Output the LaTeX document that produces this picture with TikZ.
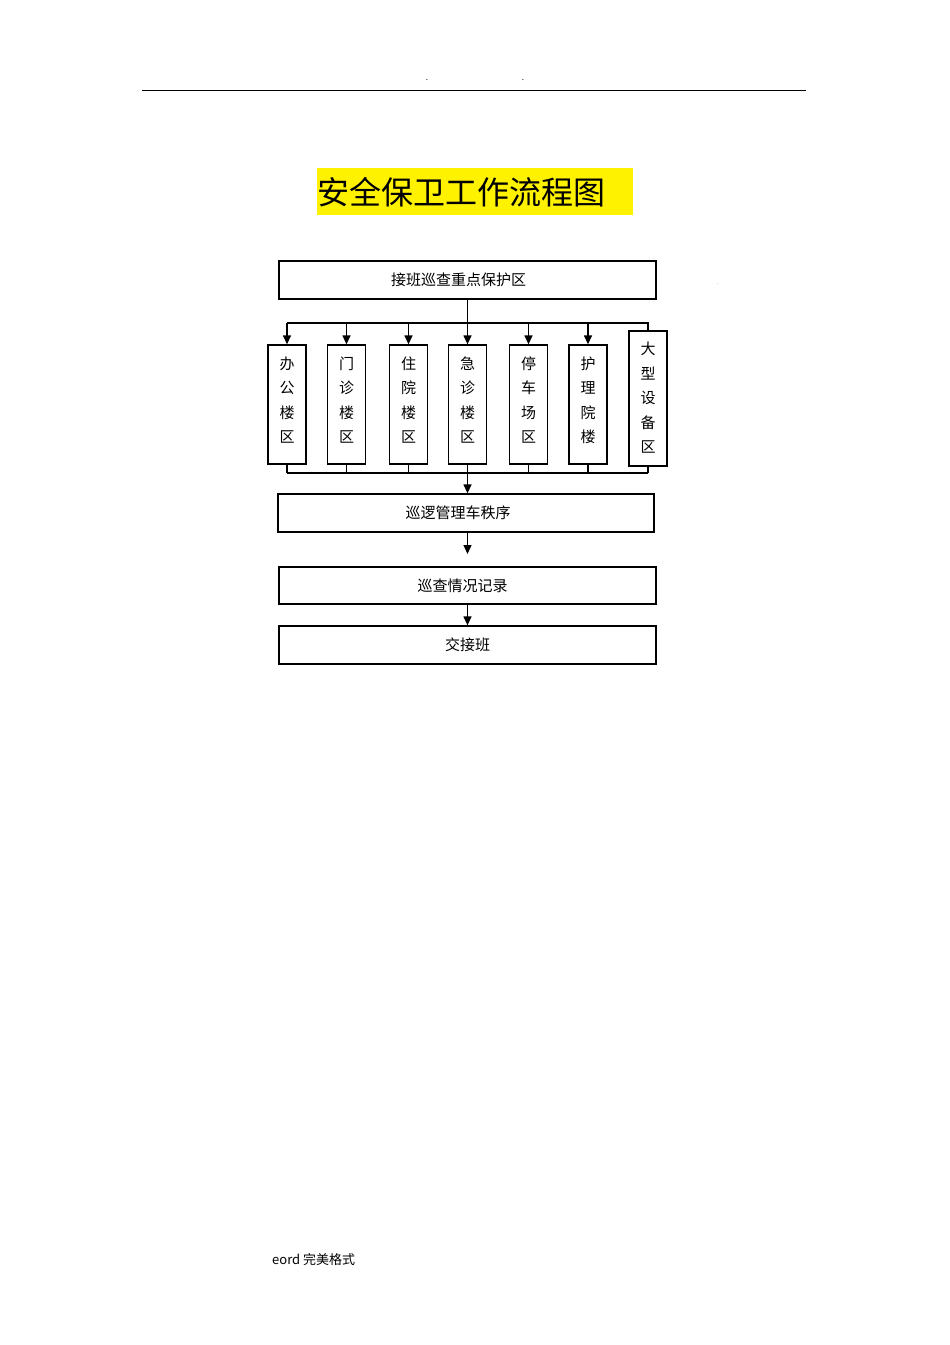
\documentclass[tikz,border=0pt]{standalone}
\usepackage{fontspec}
\setmainfont{Noto Sans CJK SC}
\usetikzlibrary{arrows.meta,positioning}
\tikzset{
  box/.style={draw, line width=1.3pt, minimum width=377pt, minimum height=38pt, inner sep=0pt, font=\fontsize{15}{18}\selectfont},
  zone/.style={draw, line width=1.3pt, minimum width=38pt, minimum height=119pt, inner sep=0pt, align=center, text depth=10pt, font=\fontsize{15}{24.5}\selectfont},
  flow/.style={line width=1.3pt, -{Triangle[width=8pt,length=9pt]}},
  bus/.style={line width=1.3pt}
}
\begin{document}
\begin{tikzpicture}[x=1pt,y=-1pt]
                \useasboundingbox (0,0) rectangle (950,1345);
                % page header
                \draw[line width=1pt] (142,90) -- (806,90);
                \node[font=\fontsize{8}{8}\selectfont] (d1) at (427,80) {.};
                \node[font=\fontsize{8}{8}\selectfont] (d2) at (523,80) {.};
                % title
                \fill[yellow] (317,168) rectangle (633,215);
                \node[anchor=west, inner sep=0pt, font=\fontsize{32}{32}\selectfont] (title) at (317,192) {安全保卫工作流程图};
                % boxes
                \node[box] (top) at (467.5,280) {\hspace*{-18pt}接班巡查重点保护区};
                \node[text=gray, font=\fontsize{6}{6}\selectfont] (d3) at (718,284) {.};
                \node[zone] (z1) at (287,404.5) {办\\公\\楼\\区};
                \node[zone] (z2) at (346.5,404.5) {门\\诊\\楼\\区};
                \node[zone] (z3) at (408.5,404.5) {住\\院\\楼\\区};
                \node[zone] (z4) at (467.5,404.5) {急\\诊\\楼\\区};
                \node[zone] (z5) at (528.5,404.5) {停\\车\\场\\区};
                \node[zone] (z6) at (588,404.5) {护\\理\\院\\楼};
                \node[zone, text depth=2pt, minimum height=135pt] (z7) at (648,398.5) {大\\型\\设\\备\\区};
                \node[box, minimum width=376pt] (patrol) at (466,513) {\hspace*{-16pt}巡逻管理车秩序};
                \node[box, minimum height=37pt] (record) at (467.5,585.5) {\hspace*{-10pt}巡查情况记录};
                \node[box] (handover) at (467.5,645) {交接班};
                % upper bus
                \coordinate (bt) at (467.5,323);
                \draw[bus] (top.south) -- (bt);
                \draw[bus] (z1 |- bt) -- (z7 |- bt) -- (z7.north);
                \foreach \z in {z1,z2,z3,z4,z5,z6}
                  \draw[flow] (\z |- bt) -- (\z.north);
                % lower bus
                \coordinate (bb) at (467.5,473);
                \draw[bus] (z1 |- bb) -- (z7 |- bb);
                \foreach \z in {z1,z2,z3,z4,z5,z6,z7}
                  \draw[bus] (\z.south) -- (\z |- bb);
                \draw[flow] (bb) -- (bb |- patrol.north);
                \coordinate (gap) at (467.5,554);
                \draw[flow] (bb |- patrol.south) -- (gap);
                \draw[flow] (record.south) -- (handover.north);
                % footer
                \node[anchor=west, inner sep=0pt, font=\fontsize{13}{13}\selectfont] (foot) at (272,1259) {eord 完美格式};
\end{tikzpicture}
\end{document}
